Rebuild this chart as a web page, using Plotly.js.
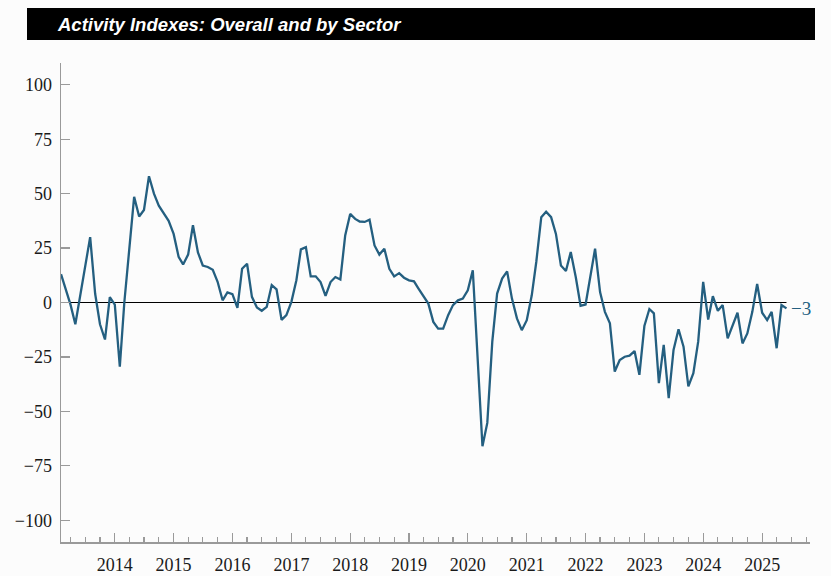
<!DOCTYPE html>
<html>
<head>
<meta charset="utf-8">
<script src="https://cdn.plot.ly/plotly-3.0.1.min.js"></script>
<style>html,body{margin:0;padding:0;background:#fcfcfc;}</style>
</head>
<body>
<div id="chart" style="width:831px;height:576px;"></div>
<script>
// Monthly activity index, first observation Feb 2013
const startYear = 2013, startMonth = 2;
const v2013 = [13, 6, -1, -10, 4, 17, 30, 4, -10, -17, 2.5];
const v2014 = [-1, -29.5, 0, 24, 48.5, 39.5, 42.5, 58, 50, 44.5, 41, 37.5];
const v2015 = [31.5, 21, 17.5, 22, 35.5, 23, 17, 16.3, 15, 9.5, 1, 4.6];
const v2016 = [3.8, -2.5, 15.5, 17.8, 2.6, -2.3, -3.8, -2, 8, 6, -8, -5.8];
const v2017 = [0.3, 10.2, 24.4, 25.4, 12, 12, 9.4, 3, 9.4, 11.7, 10.6, 30.8];
const v2018 = [40.7, 38.4, 37.2, 37, 38, 26.2, 22, 24.7, 15.5, 12, 13.5, 11.4];
const v2019 = [10.2, 9.7, 6.4, 2.6, -0.5, -8.9, -12, -12, -5.8, -1.2, 1, 1.8];
const v2020 = [5.6, 14.8, -25, -66, -55.3, -18, 4.1, 11, 14.3, 1.8, -7.3, -12.7];
const v2021 = [-8.1, 3.3, 18.6, 39.2, 41.7, 39.2, 31.5, 17, 14.5, 23.2, 11.7, -1.5];
const v2022 = [-0.9, 11.7, 24.7, 4.8, -4.3, -9.6, -31.7, -26.4, -24.9, -24.4, -22.3, -33.2];
const v2023 = [-10.8, -3, -5, -37, -19.5, -43.9, -21.8, -12.3, -20.3, -38.5, -32.5, -18];
const v2024 = [9.5, -7.8, 2.9, -3.8, -1.2, -16.5, -11.1, -4.7, -18.8, -14.2, -4.3, 8.5];
const v2025 = [-4.7, -8.1, -4.3, -21, -1.2, -2.7];
const yTicks = [-100, -75, -50, -25, 0, 25, 50, 75, 100];

const values = [].concat(v2013, v2014, v2015, v2016, v2017, v2018, v2019,
                         v2020, v2021, v2022, v2023, v2024, v2025);
const dates = values.map((_, i) => {
  const m = startMonth - 1 + i;
  const y = startYear + Math.floor(m / 12);
  const mm = (m % 12) + 1;
  return y + '-' + String(mm).padStart(2, '0') + '-01';
});

const lineColor = '#245f80';
const axisColor = '#9a9a9a';
const serif = 'Liberation Serif, Times New Roman, serif';

const lastVal = values[values.length - 1];
const lastLabel = (Math.round(lastVal) < 0 ? '\u2212' : '') + Math.abs(Math.round(lastVal));

const traces = [
  {x: dates, y: dates.map(() => 0), type: 'scatter', mode: 'lines',
   line: {color: '#000', width: 1.2}, hoverinfo: 'skip', showlegend: false},
  {x: dates, y: values, type: 'scatter', mode: 'lines',
   line: {color: lineColor, width: 2.3}, showlegend: false}
];

const layout = {
  width: 831, height: 576,
  margin: {l: 61, r: 21, t: 63, b: 34, pad: 0},
  paper_bgcolor: '#fcfcfc', plot_bgcolor: '#fcfcfc',
  title: {
    text: '<b><i>Activity Indexes: Overall and by Sector</i></b>',
    font: {family: 'Liberation Sans, Arial, sans-serif', size: 18.5, color: '#ffffff'},
    xref: 'container', x: 58 / 831, xanchor: 'left',
    yref: 'container', y: 1 - 25 / 576, yanchor: 'middle'
  },
  shapes: [{
    type: 'rect', xref: 'paper', yref: 'paper',
    x0: -34 / 749, x1: 1 + 5 / 749, y0: 1 + 502 / 479 - 1, y1: 1 + 534 / 479 - 1,
    fillcolor: '#000', line: {width: 0}, layer: 'below'
  }],
  xaxis: {
    type: 'date', range: ['2013-02-01', '2025-10-25'],
    tick0: '2014-01-01', dtick: 'M12', tickformat: '%Y',
    ticks: 'inside', ticklen: 9, tickwidth: 1.3, tickcolor: axisColor,
    showline: true, linecolor: axisColor, linewidth: 1.5,
    showgrid: false, zeroline: false,
    tickfont: {family: serif, size: 18, color: '#1a1a1a'},
    ticklabelstandoff: 6,
    minor: {dtick: 'M3', tick0: '2014-01-01', ticks: 'inside', ticklen: 5,
            tickwidth: 1.2, tickcolor: axisColor, showgrid: false}
  },
  yaxis: {
    range: [-110, 110], tickvals: yTicks,
    ticks: 'inside', ticklen: 9, tickwidth: 1.3, tickcolor: axisColor,
    showline: true, linecolor: axisColor, linewidth: 1.5,
    showgrid: false, zeroline: false,
    tickfont: {family: serif, size: 18, color: '#1a1a1a'},
    ticklabelstandoff: 4
  },
  annotations: [{
    x: dates[dates.length - 1], y: lastVal, xref: 'x', yref: 'y',
    text: lastLabel, showarrow: false, xanchor: 'left', yanchor: 'middle',
    xshift: 3, font: {family: serif, size: 19, color: lineColor}
  }]
};

Plotly.newPlot('chart', traces, layout, {displayModeBar: false, staticPlot: true});
</script>
</body>
</html>
